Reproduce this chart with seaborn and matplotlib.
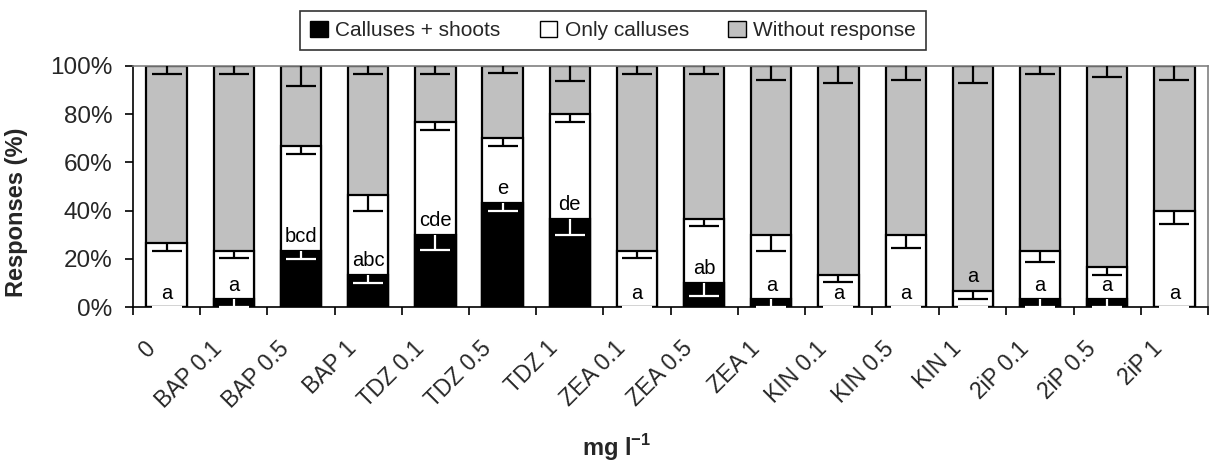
import numpy as np
import pandas as pd
import matplotlib
matplotlib.use("Agg")
import matplotlib.pyplot as plt
import seaborn as sns
from matplotlib.patches import Patch
from matplotlib.ticker import FuncFormatter, FixedLocator
from matplotlib.transforms import ScaledTranslation

# ---------------- data ----------------
treatments = ["0", "BAP 0.1", "BAP 0.5", "BAP 1", "TDZ 0.1", "TDZ 0.5", "TDZ 1",
              "ZEA 0.1", "ZEA 0.5", "ZEA 1", "KIN 0.1", "KIN 0.5", "KIN 1",
              "2iP 0.1", "2iP 0.5", "2iP 1"]
calluses_shoots = [0, 3.33, 23.33, 13.33, 30.0, 43.33, 36.67, 0, 10.0, 3.33,
                   0, 0, 0, 3.33, 3.33, 0]
only_calluses = [26.67, 20.0, 43.33, 33.33, 46.67, 26.67, 43.33, 23.33, 26.67, 26.67,
                 13.33, 30.0, 6.67, 20.0, 13.33, 40.0]
err_shoots = [0, 3.3, 3.5, 3.2, 6.3, 3.5, 6.7, 0, 5.3, 3.3, 0, 0, 0, 3.3, 3.3, 0]
err_calluses = [3.3, 3.0, 3.3, 6.7, 3.3, 3.2, 3.2, 3.0, 3.0, 6.6, 2.8, 5.5, 3.2, 4.7, 3.3, 5.7]
err_without = [3.3, 3.3, 8.3, 3.3, 3.3, 2.9, 6.1, 3.4, 3.4, 6.0, 7.0, 6.0, 7.0, 3.4, 4.6, 5.8]
letters = ["a", "a", "bcd", "abc", "cde", "e", "de", "a", "ab", "a", "a", "a", "a", "a", "a", "a"]
series_names = ["Calluses + shoots", "Only calluses", "Without response"]

# ---------------- derived table ----------------
cs = np.array(calluses_shoots)
oc = np.array(only_calluses)
wr = 100 - cs - oc
df = pd.DataFrame({
    "treatment": treatments,
    "top_black": cs,
    "top_white": cs + oc,
    "top_gray": cs + oc + wr,
})

# ---------------- style ----------------
sns.set_theme(style="white")
plt.rcParams["font.family"] = ["Liberation Sans", "DejaVu Sans"]
plt.rcParams["mathtext.fontset"] = "custom"
plt.rcParams["mathtext.rm"] = "Liberation Sans"
plt.rcParams["mathtext.bf"] = "Liberation Sans:bold"

W, H = 1211, 468
fig = plt.figure(figsize=(W / 100, H / 100), dpi=100)
ax = fig.add_axes([133 / W, (H - 307) / H, (1208 - 133) / W, (307 - 66) / H])

GRAY = "#C0C0C0"
bar_kw = dict(order=treatments, width=0.6, saturation=1, errorbar=None,
              edgecolor="black", linewidth=1.6, ax=ax)
sns.barplot(data=df, x="treatment", y="top_gray", color=GRAY, **bar_kw)
sns.barplot(data=df, x="treatment", y="top_white", color="white", **bar_kw)
sns.barplot(data=df, x="treatment", y="top_black", color="black", **bar_kw)

# ---------------- lower-only error bars ----------------
xpos = np.arange(len(treatments))
EB = dict(fmt="none", elinewidth=1.6, capsize=10.5, capthick=1.6, zorder=5,
          clip_on=False)


def lower_errbars(tops, errs, color):
    tops = np.asarray(tops, float)
    errs = np.asarray(errs, float)
    m = errs > 0
    cont = ax.errorbar(xpos[m], tops[m], yerr=[errs[m], np.zeros(m.sum())],
                       ecolor=color, **EB)
    for cap in cont.lines[1]:
        if np.allclose(cap.get_ydata(), tops[m]):
            cap.set_visible(False)
    # zero-size error of an empty segment: only its cap shows
    z = (errs == 0) & (tops == 0)
    if z.any():
        ax.errorbar(xpos[z], tops[z], yerr=np.zeros(z.sum()), ecolor=color,
                    **dict(EB, zorder=6))


lower_errbars(df["top_gray"], err_without, "black")
lower_errbars(df["top_white"], err_calluses, "black")
lower_errbars(df["top_black"], err_shoots, "white")

# ---------------- significance letters ----------------
for i, lab in enumerate(letters):
    base = cs[i] if oc[i] >= 10 else cs[i] + oc[i]
    ax.text(i, base + 3.5, lab, ha="center", va="baseline", fontsize=14.5,
            color="black", zorder=7)

# ---------------- axes ----------------
ax.set_xlim(-0.5, len(treatments) - 0.5)
ax.set_ylim(0, 100)
ax.set_yticks([0, 20, 40, 60, 80, 100])
ax.yaxis.set_major_formatter(FuncFormatter(lambda v, _: f"{int(v)}%"))
ax.tick_params(axis="y", which="major", direction="out", length=5.8, width=1.2,
               color="black", labelsize=17.5, pad=9, left=True)
ax.set_xticks(xpos)
ax.set_xticklabels(treatments, rotation=45, ha="right", va="center",
                   rotation_mode="anchor")
ax.xaxis.set_minor_locator(FixedLocator(np.arange(-0.5, len(treatments), 1.0)))
ax.tick_params(axis="x", which="major", length=0, labelsize=16.5, pad=0)
ax.tick_params(axis="x", which="minor", direction="out", length=5.8, width=1.2,
               color="black", bottom=True)
shift = ScaledTranslation(-15 / 100, -38 / 100, fig.dpi_scale_trans)
for lab in ax.get_xticklabels():
    lab.set_transform(lab.get_transform() + shift)

for side in ["left", "bottom"]:
    ax.spines[side].set_color("black")
    ax.spines[side].set_linewidth(1.2)
for side in ["top", "right"]:
    ax.spines[side].set_visible(True)
    ax.spines[side].set_color("#808080")
    ax.spines[side].set_linewidth(1.2)

ax.set_ylabel("Responses (%)", fontsize=17, fontweight="bold")
ax.yaxis.set_label_coords((28 - 133) / (1208 - 133), (307 - 212) / (307 - 66))
ax.set_xlabel(r"mg l$^{\mathbf{-1}}$", fontsize=17, fontweight="bold")
ax.xaxis.set_label_coords((617 - 133) / (1208 - 133), (307 - 432) / (307 - 66))

# ---------------- legend ----------------
handles = [Patch(facecolor="black", edgecolor="black", linewidth=1),
           Patch(facecolor="white", edgecolor="black", linewidth=1),
           Patch(facecolor=GRAY, edgecolor="black", linewidth=1)]
leg = fig.legend(handles, series_names, loc="center",
                 bbox_to_anchor=(613 / W, 1 - 30.5 / H), ncol=3, frameon=True,
                 fancybox=False, edgecolor="black", fontsize=15,
                 handlelength=0.85, handleheight=0.85, handletextpad=0.35,
                 columnspacing=1.9, borderpad=0.45)
leg.get_frame().set_linewidth(1.2)

fig.savefig("out.png", dpi=100)
